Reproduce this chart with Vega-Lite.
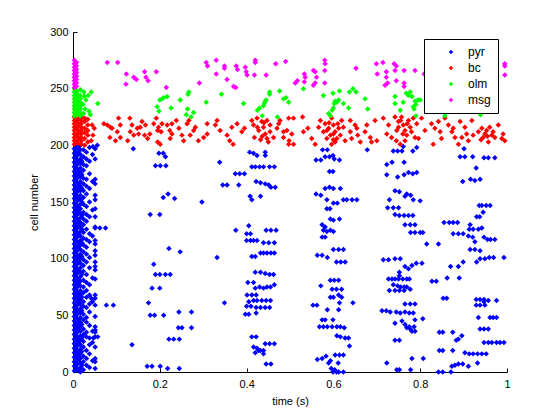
{
  "$schema": "https://vega.github.io/schema/vega-lite/v6.json",
  "autosize": {"type": "none"},
  "width": 434,
  "height": 340,
  "padding": {"left": 73, "top": 32, "right": 53, "bottom": 48},
  "background": "white",
  "config": {
    "view": {"stroke": null},
    "font": "Liberation Sans",
    "axis": {"grid": false, "domainColor": "black", "tickColor": "black", "labelColor": "black", "titleColor": "black", "labelFont": "Liberation Sans", "titleFont": "Liberation Sans", "labelFontSize": 11, "titleFontSize": 11, "titleFontWeight": "normal", "tickSize": -4, "domainWidth": 1, "tickWidth": 1},
    "legend": {"labelFont": "Liberation Sans", "labelFontSize": 12, "labelColor": "black"}
  },
  "datasets": {
    "pyr": [
      {"t":0.003,"c":1},{"t":0.003,"c":5},{"t":0.003,"c":9},{"t":0.003,"c":13},{"t":0.003,"c":17},{"t":0.003,"c":21},{"t":0.003,"c":25},{"t":0.003,"c":29},{"t":0.003,"c":33},{"t":0.003,"c":37},{"t":0.003,"c":41},{"t":0.003,"c":45},{"t":0.003,"c":49},{"t":0.003,"c":53},{"t":0.003,"c":57},{"t":0.003,"c":61},{"t":0.003,"c":65},{"t":0.003,"c":69},{"t":0.003,"c":73},{"t":0.003,"c":77},{"t":0.003,"c":81},{"t":0.003,"c":85},{"t":0.003,"c":89},{"t":0.003,"c":93},{"t":0.003,"c":97},{"t":0.003,"c":101},{"t":0.003,"c":105},{"t":0.003,"c":109},{"t":0.003,"c":113},{"t":0.003,"c":117},{"t":0.003,"c":121},{"t":0.003,"c":125},{"t":0.003,"c":129},{"t":0.003,"c":133},{"t":0.003,"c":137},{"t":0.003,"c":141},{"t":0.003,"c":145},{"t":0.003,"c":149},{"t":0.003,"c":153},{"t":0.003,"c":157},{"t":0.003,"c":161},{"t":0.003,"c":165},{"t":0.003,"c":169},{"t":0.003,"c":173},{"t":0.003,"c":177},{"t":0.003,"c":181},{"t":0.003,"c":185},{"t":0.003,"c":189},{"t":0.003,"c":193},{"t":0.003,"c":197},
      {"t":0.0065,"c":2},{"t":0.0065,"c":6},{"t":0.0065,"c":14},{"t":0.0065,"c":18},{"t":0.0065,"c":22},{"t":0.0065,"c":30},{"t":0.0065,"c":34},{"t":0.0065,"c":38},{"t":0.0065,"c":42},{"t":0.0065,"c":50},{"t":0.0065,"c":54},{"t":0.0065,"c":58},{"t":0.0065,"c":66},{"t":0.0065,"c":70},{"t":0.0065,"c":74},{"t":0.0065,"c":78},{"t":0.0065,"c":86},{"t":0.0065,"c":90},{"t":0.0065,"c":94},{"t":0.0065,"c":102},{"t":0.0065,"c":106},{"t":0.0065,"c":110},{"t":0.0065,"c":118},{"t":0.0065,"c":122},{"t":0.0065,"c":126},{"t":0.0065,"c":130},{"t":0.0065,"c":138},{"t":0.0065,"c":142},{"t":0.0065,"c":146},{"t":0.0065,"c":154},{"t":0.0065,"c":158},{"t":0.0065,"c":162},{"t":0.0065,"c":170},{"t":0.0065,"c":174},{"t":0.0065,"c":178},{"t":0.0065,"c":182},{"t":0.0065,"c":190},{"t":0.0065,"c":194},{"t":0.0065,"c":198},
      {"t":0.010,"c":3},{"t":0.010,"c":7},{"t":0.010,"c":11},{"t":0.010,"c":15},{"t":0.010,"c":19},{"t":0.010,"c":23},{"t":0.010,"c":27},{"t":0.010,"c":31},{"t":0.010,"c":35},{"t":0.010,"c":39},{"t":0.010,"c":43},{"t":0.010,"c":47},{"t":0.010,"c":51},{"t":0.010,"c":55},{"t":0.010,"c":59},{"t":0.010,"c":63},{"t":0.010,"c":67},{"t":0.010,"c":71},{"t":0.010,"c":75},{"t":0.010,"c":79},{"t":0.010,"c":83},{"t":0.010,"c":87},{"t":0.010,"c":91},{"t":0.010,"c":95},{"t":0.010,"c":99},{"t":0.010,"c":103},{"t":0.010,"c":107},{"t":0.010,"c":111},{"t":0.010,"c":115},{"t":0.010,"c":119},{"t":0.010,"c":123},{"t":0.010,"c":127},{"t":0.010,"c":131},{"t":0.010,"c":135},{"t":0.010,"c":139},{"t":0.010,"c":143},{"t":0.010,"c":147},{"t":0.010,"c":151},{"t":0.010,"c":155},{"t":0.010,"c":159},{"t":0.010,"c":163},{"t":0.010,"c":167},{"t":0.010,"c":171},{"t":0.010,"c":175},{"t":0.010,"c":179},{"t":0.010,"c":183},{"t":0.010,"c":187},{"t":0.010,"c":191},{"t":0.010,"c":195},{"t":0.010,"c":199},
      {"t":0.0135,"c":1},{"t":0.0135,"c":9},{"t":0.0135,"c":13},{"t":0.0135,"c":17},{"t":0.0135,"c":25},{"t":0.0135,"c":29},{"t":0.0135,"c":37},{"t":0.0135,"c":41},{"t":0.0135,"c":45},{"t":0.0135,"c":53},{"t":0.0135,"c":61},{"t":0.0135,"c":65},{"t":0.0135,"c":69},{"t":0.0135,"c":77},{"t":0.0135,"c":81},{"t":0.0135,"c":89},{"t":0.0135,"c":97},{"t":0.0135,"c":101},{"t":0.0135,"c":109},{"t":0.0135,"c":113},{"t":0.0135,"c":121},{"t":0.0135,"c":129},{"t":0.0135,"c":133},{"t":0.0135,"c":141},{"t":0.0135,"c":145},{"t":0.0135,"c":153},{"t":0.0135,"c":161},{"t":0.0135,"c":165},{"t":0.0135,"c":173},{"t":0.0135,"c":177},{"t":0.0135,"c":185},{"t":0.0135,"c":193},{"t":0.0135,"c":197},
      {"t":0.017,"c":0},{"t":0.017,"c":4},{"t":0.017,"c":8},{"t":0.017,"c":12},{"t":0.017,"c":16},{"t":0.017,"c":20},{"t":0.017,"c":24},{"t":0.017,"c":28},{"t":0.017,"c":32},{"t":0.017,"c":36},{"t":0.017,"c":40},{"t":0.017,"c":44},{"t":0.017,"c":48},{"t":0.017,"c":52},{"t":0.017,"c":56},{"t":0.017,"c":60},{"t":0.017,"c":64},{"t":0.017,"c":68},{"t":0.017,"c":72},{"t":0.017,"c":76},{"t":0.017,"c":80},{"t":0.017,"c":84},{"t":0.017,"c":88},{"t":0.017,"c":92},{"t":0.017,"c":96},{"t":0.017,"c":100},{"t":0.017,"c":104},{"t":0.017,"c":108},{"t":0.017,"c":112},{"t":0.017,"c":116},{"t":0.017,"c":120},{"t":0.017,"c":124},{"t":0.017,"c":128},{"t":0.017,"c":132},{"t":0.017,"c":136},{"t":0.017,"c":140},{"t":0.017,"c":144},{"t":0.017,"c":148},{"t":0.017,"c":152},{"t":0.017,"c":156},{"t":0.017,"c":160},{"t":0.017,"c":164},{"t":0.017,"c":168},{"t":0.017,"c":172},{"t":0.017,"c":176},{"t":0.017,"c":180},{"t":0.017,"c":184},{"t":0.017,"c":188},{"t":0.017,"c":192},{"t":0.017,"c":196},{"t":0.017,"c":200},
      {"t":0.0205,"c":6},{"t":0.0205,"c":18},{"t":0.0205,"c":30},{"t":0.0205,"c":42},{"t":0.0205,"c":54},{"t":0.0205,"c":66},{"t":0.0205,"c":86},{"t":0.0205,"c":102},{"t":0.0205,"c":114},{"t":0.0205,"c":126},{"t":0.0205,"c":138},{"t":0.0205,"c":150},{"t":0.0205,"c":162},{"t":0.0205,"c":174},{"t":0.0205,"c":186},
      {"t":0.024,"c":2},{"t":0.024,"c":9},{"t":0.024,"c":14},{"t":0.024,"c":22},{"t":0.024,"c":27},{"t":0.024,"c":33},{"t":0.024,"c":38},{"t":0.024,"c":46},{"t":0.024,"c":51},{"t":0.024,"c":58},{"t":0.024,"c":62},{"t":0.024,"c":70},{"t":0.024,"c":75},{"t":0.024,"c":81},{"t":0.024,"c":89},{"t":0.024,"c":94},{"t":0.024,"c":99},{"t":0.024,"c":106},{"t":0.024,"c":112},{"t":0.024,"c":118},{"t":0.024,"c":123},{"t":0.024,"c":130},{"t":0.024,"c":135},{"t":0.024,"c":141},{"t":0.024,"c":148},{"t":0.024,"c":154},{"t":0.024,"c":160},{"t":0.024,"c":166},{"t":0.024,"c":171},{"t":0.024,"c":178},{"t":0.024,"c":183},{"t":0.024,"c":190},{"t":0.024,"c":196},
      {"t":0.031,"c":6},{"t":0.031,"c":12},{"t":0.031,"c":19},{"t":0.031,"c":31},{"t":0.031,"c":35},{"t":0.031,"c":44},{"t":0.031,"c":48},{"t":0.031,"c":57},{"t":0.031,"c":66},{"t":0.031,"c":72},{"t":0.031,"c":79},{"t":0.031,"c":86},{"t":0.031,"c":97},{"t":0.031,"c":104},{"t":0.031,"c":110},{"t":0.031,"c":117},{"t":0.031,"c":126},{"t":0.031,"c":133},{"t":0.031,"c":139},{"t":0.031,"c":146},{"t":0.031,"c":157},{"t":0.031,"c":164},{"t":0.031,"c":170},{"t":0.031,"c":182},{"t":0.031,"c":188},{"t":0.031,"c":194},
      {"t":0.038,"c":4},{"t":0.038,"c":16},{"t":0.038,"c":24},{"t":0.038,"c":30},{"t":0.038,"c":41},{"t":0.038,"c":53},{"t":0.038,"c":60},{"t":0.038,"c":68},{"t":0.038,"c":77},{"t":0.038,"c":92},{"t":0.038,"c":101},{"t":0.038,"c":115},{"t":0.038,"c":122},{"t":0.038,"c":137},{"t":0.038,"c":150},{"t":0.038,"c":162},{"t":0.038,"c":175},{"t":0.038,"c":186},{"t":0.038,"c":198},
      {"t":0.045,"c":10},{"t":0.045,"c":26},{"t":0.045,"c":36},{"t":0.045,"c":62},{"t":0.045,"c":64},{"t":0.045,"c":83},{"t":0.045,"c":120},{"t":0.045,"c":143},{"t":0.045,"c":168},{"t":0.045,"c":192},
      {"t":0.051,"c":3},{"t":0.051,"c":9},{"t":0.051,"c":12},{"t":0.051,"c":22},{"t":0.051,"c":31},{"t":0.051,"c":35},{"t":0.051,"c":37},{"t":0.051,"c":40},{"t":0.051,"c":49},{"t":0.051,"c":59},{"t":0.051,"c":65},{"t":0.051,"c":68},{"t":0.051,"c":82},{"t":0.051,"c":90},{"t":0.051,"c":93},{"t":0.051,"c":97},{"t":0.051,"c":103},{"t":0.051,"c":107},{"t":0.051,"c":113},{"t":0.051,"c":116},{"t":0.051,"c":127},{"t":0.051,"c":128},{"t":0.051,"c":137},{"t":0.051,"c":144},{"t":0.051,"c":152},{"t":0.051,"c":156},{"t":0.051,"c":166},{"t":0.051,"c":170},{"t":0.051,"c":188},{"t":0.051,"c":197},
      {"t":0.062,"c":127},{"t":0.075,"c":127},{"t":0.077,"c":59},{"t":0.093,"c":59},{"t":0.046,"c":199},{"t":0.056,"c":200},{"t":0.042,"c":65},{"t":0.047,"c":30},{"t":0.057,"c":31},
      {"t":0.139,"c":197},{"t":0.198,"c":193},{"t":0.208,"c":193},{"t":0.213,"c":190},{"t":0.19,"c":182},{"t":0.201,"c":182},{"t":0.214,"c":182},{"t":0.208,"c":154},{"t":0.219,"c":157},{"t":0.234,"c":153},{"t":0.178,"c":139},{"t":0.2,"c":139},{"t":0.297,"c":150},{"t":0.338,"c":185},{"t":0.345,"c":165},{"t":0.355,"c":165},{"t":0.382,"c":165},{"t":0.374,"c":175},{"t":0.384,"c":175},{"t":0.395,"c":175},{"t":0.407,"c":194},{"t":0.416,"c":193},{"t":0.424,"c":191},{"t":0.443,"c":194},{"t":0.443,"c":191},{"t":0.412,"c":181},{"t":0.42,"c":181},{"t":0.43,"c":181},{"t":0.439,"c":181},{"t":0.453,"c":181},{"t":0.464,"c":181},{"t":0.422,"c":168},{"t":0.432,"c":167},{"t":0.443,"c":166},{"t":0.451,"c":165},{"t":0.456,"c":163},{"t":0.466,"c":163},{"t":0.408,"c":155},{"t":0.412,"c":152},{"t":0.432,"c":155},
      {"t":0.136,"c":24},{"t":0.186,"c":95},{"t":0.19,"c":86},{"t":0.2,"c":86},{"t":0.213,"c":86},{"t":0.224,"c":86},{"t":0.182,"c":74},{"t":0.2,"c":74},{"t":0.221,"c":109},{"t":0.247,"c":106},{"t":0.174,"c":61},{"t":0.178,"c":50},{"t":0.188,"c":50},{"t":0.209,"c":50},{"t":0.244,"c":53},{"t":0.273,"c":53},{"t":0.243,"c":39},{"t":0.251,"c":39},{"t":0.273,"c":39},{"t":0.221,"c":29},{"t":0.232,"c":29},{"t":0.245,"c":29},{"t":0.171,"c":5},{"t":0.182,"c":5},{"t":0.201,"c":5},{"t":0.218,"c":3},{"t":0.245,"c":3},{"t":0.332,"c":101},{"t":0.375,"c":125},{"t":0.349,"c":61},
      {"t":0.405,"c":129},{"t":0.4,"c":122},{"t":0.409,"c":122},{"t":0.4,"c":116},{"t":0.409,"c":116},{"t":0.416,"c":116},{"t":0.424,"c":116},{"t":0.412,"c":102},{"t":0.42,"c":102},{"t":0.432,"c":105},{"t":0.439,"c":105},{"t":0.447,"c":105},{"t":0.456,"c":105},{"t":0.464,"c":105},{"t":0.439,"c":114},{"t":0.451,"c":114},{"t":0.464,"c":114},{"t":0.445,"c":125},{"t":0.456,"c":125},{"t":0.468,"c":125},{"t":0.42,"c":88},{"t":0.432,"c":88},{"t":0.443,"c":87},{"t":0.453,"c":86},{"t":0.462,"c":86},{"t":0.403,"c":79},{"t":0.416,"c":79},{"t":0.42,"c":74},{"t":0.43,"c":75},{"t":0.439,"c":74},{"t":0.447,"c":75},{"t":0.455,"c":75},{"t":0.464,"c":77},{"t":0.401,"c":68},{"t":0.412,"c":68},{"t":0.422,"c":68},{"t":0.405,"c":62},{"t":0.416,"c":63},{"t":0.424,"c":63},{"t":0.435,"c":63},{"t":0.445,"c":63},{"t":0.455,"c":63},{"t":0.4,"c":58},{"t":0.41,"c":58},{"t":0.422,"c":57},{"t":0.432,"c":57},{"t":0.443,"c":57},{"t":0.453,"c":57},{"t":0.397,"c":51},{"t":0.405,"c":51},{"t":0.422,"c":52},{"t":0.412,"c":31},{"t":0.422,"c":31},{"t":0.416,"c":22},{"t":0.424,"c":21},{"t":0.428,"c":19},{"t":0.42,"c":17},{"t":0.432,"c":19},{"t":0.439,"c":19},{"t":0.443,"c":25},{"t":0.453,"c":25},{"t":0.464,"c":25},{"t":0.439,"c":16},{"t":0.445,"c":7},{"t":0.456,"c":7},
      {"t":0.678,"c":196},{"t":0.56,"c":187},{"t":0.571,"c":187},{"t":0.581,"c":190},{"t":0.591,"c":190},{"t":0.599,"c":191},{"t":0.602,"c":188},{"t":0.614,"c":187},{"t":0.575,"c":196},{"t":0.586,"c":196},{"t":0.591,"c":177},{"t":0.599,"c":177},{"t":0.56,"c":157},{"t":0.571,"c":156},{"t":0.581,"c":162},{"t":0.591,"c":163},{"t":0.6,"c":162},{"t":0.616,"c":162},{"t":0.585,"c":152},{"t":0.6,"c":149},{"t":0.609,"c":149},{"t":0.623,"c":152},{"t":0.631,"c":152},{"t":0.643,"c":152},{"t":0.654,"c":152},{"t":0.585,"c":144},{"t":0.592,"c":144},
      {"t":0.738,"c":195},{"t":0.748,"c":195},{"t":0.758,"c":195},{"t":0.761,"c":199},{"t":0.783,"c":195},{"t":0.792,"c":198},{"t":0.723,"c":183},{"t":0.735,"c":185},{"t":0.763,"c":185},{"t":0.723,"c":174},{"t":0.748,"c":172},{"t":0.763,"c":174},{"t":0.773,"c":176},{"t":0.783,"c":175},{"t":0.792,"c":176},{"t":0.742,"c":160},{"t":0.752,"c":159},{"t":0.769,"c":157},{"t":0.778,"c":156},{"t":0.765,"c":155},{"t":0.784,"c":152},{"t":0.8,"c":151},{"t":0.729,"c":152},{"t":0.738,"c":145},{"t":0.75,"c":145},{"t":0.725,"c":145},{"t":0.742,"c":139},{"t":0.752,"c":138},{"t":0.763,"c":138},{"t":0.773,"c":138},{"t":0.783,"c":138},
      {"t":0.892,"c":190},{"t":0.903,"c":190},{"t":0.921,"c":190},{"t":0.947,"c":189},{"t":0.957,"c":189},{"t":0.972,"c":189},{"t":0.901,"c":197},{"t":0.929,"c":180},{"t":0.898,"c":168},{"t":0.916,"c":170},{"t":0.926,"c":169},{"t":0.938,"c":170},{"t":0.936,"c":147},{"t":0.942,"c":147},{"t":0.952,"c":147},{"t":0.961,"c":147},{"t":0.945,"c":141},{"t":0.93,"c":137},{"t":0.937,"c":137},
      {"t":0.593,"c":135},{"t":0.6,"c":134},{"t":0.614,"c":135},{"t":0.574,"c":130},{"t":0.581,"c":128},{"t":0.593,"c":125},{"t":0.577,"c":125},{"t":0.585,"c":124},{"t":0.6,"c":124},{"t":0.574,"c":119},{"t":0.581,"c":119},{"t":0.6,"c":108},{"t":0.612,"c":108},{"t":0.623,"c":108},{"t":0.563,"c":103},{"t":0.574,"c":103},{"t":0.586,"c":101},{"t":0.607,"c":97},{"t":0.617,"c":97},{"t":0.627,"c":97},{"t":0.593,"c":81},{"t":0.602,"c":81},{"t":0.612,"c":81},{"t":0.571,"c":76},{"t":0.597,"c":73},{"t":0.607,"c":73},{"t":0.619,"c":73},{"t":0.593,"c":66},{"t":0.6,"c":66},{"t":0.612,"c":68},{"t":0.619,"c":66},{"t":0.553,"c":59},{"t":0.562,"c":59},{"t":0.614,"c":61},{"t":0.645,"c":61},{"t":0.586,"c":55},{"t":0.612,"c":55},{"t":0.574,"c":46},{"t":0.581,"c":46},{"t":0.599,"c":46},{"t":0.568,"c":40},{"t":0.577,"c":40},{"t":0.586,"c":40},{"t":0.597,"c":40},{"t":0.608,"c":40},{"t":0.616,"c":40},{"t":0.625,"c":39},{"t":0.608,"c":32},{"t":0.616,"c":31},{"t":0.627,"c":30},{"t":0.635,"c":30},{"t":0.637,"c":23},{"t":0.563,"c":11},{"t":0.574,"c":12},{"t":0.583,"c":14},{"t":0.593,"c":10},{"t":0.604,"c":15},{"t":0.614,"c":15},{"t":0.623,"c":15},{"t":0.589,"c":8},{"t":0.611,"c":8},{"t":0.595,"c":3},{"t":0.603,"c":2},{"t":0.612,"c":0},{"t":0.623,"c":0},{"t":0.599,"c":0},{"t":0.607,"c":0},
      {"t":0.765,"c":130},{"t":0.777,"c":130},{"t":0.788,"c":130},{"t":0.778,"c":123},{"t":0.788,"c":123},{"t":0.8,"c":123},{"t":0.806,"c":123},{"t":0.815,"c":113},{"t":0.842,"c":113},{"t":0.715,"c":99},{"t":0.727,"c":99},{"t":0.742,"c":100},{"t":0.754,"c":100},{"t":0.765,"c":93},{"t":0.773,"c":91},{"t":0.781,"c":94},{"t":0.791,"c":96},{"t":0.804,"c":96},{"t":0.752,"c":88},{"t":0.752,"c":85},{"t":0.727,"c":82},{"t":0.735,"c":82},{"t":0.742,"c":82},{"t":0.75,"c":82},{"t":0.76,"c":82},{"t":0.769,"c":82},{"t":0.775,"c":82},{"t":0.738,"c":77},{"t":0.748,"c":76},{"t":0.755,"c":75},{"t":0.763,"c":75},{"t":0.769,"c":75},{"t":0.777,"c":73},{"t":0.729,"c":72},{"t":0.742,"c":72},{"t":0.752,"c":72},{"t":0.763,"c":72},{"t":0.827,"c":80},{"t":0.837,"c":80},{"t":0.862,"c":83},{"t":0.89,"c":83},{"t":0.853,"c":65},{"t":0.861,"c":65},{"t":0.765,"c":60},{"t":0.777,"c":60},{"t":0.788,"c":60},{"t":0.712,"c":54},{"t":0.722,"c":54},{"t":0.731,"c":53},{"t":0.745,"c":53},{"t":0.754,"c":52},{"t":0.765,"c":53},{"t":0.775,"c":52},{"t":0.784,"c":52},{"t":0.742,"c":43},{"t":0.758,"c":45},{"t":0.765,"c":42},{"t":0.769,"c":39},{"t":0.777,"c":38},{"t":0.781,"c":36},{"t":0.788,"c":36},{"t":0.775,"c":40},{"t":0.786,"c":40},{"t":0.806,"c":47},{"t":0.788,"c":46},{"t":0.742,"c":28},{"t":0.752,"c":28},{"t":0.723,"c":8},{"t":0.746,"c":2},{"t":0.752,"c":2},{"t":0.778,"c":2},{"t":0.781,"c":12},{"t":0.807,"c":12},
      {"t":0.844,"c":35},{"t":0.852,"c":35},{"t":0.875,"c":35},{"t":0.896,"c":32},{"t":0.888,"c":29},{"t":0.883,"c":28},{"t":0.844,"c":19},{"t":0.852,"c":19},{"t":0.875,"c":19},{"t":0.903,"c":17},{"t":0.913,"c":16},{"t":0.922,"c":16},{"t":0.932,"c":16},{"t":0.942,"c":16},{"t":0.952,"c":16},{"t":0.932,"c":8},{"t":0.873,"c":5},{"t":0.88,"c":6},{"t":0.888,"c":7},{"t":0.898,"c":7},{"t":0.911,"c":5},{"t":0.842,"c":0},{"t":0.852,"c":0},{"t":0.871,"c":0},
      {"t":0.938,"c":64},{"t":0.947,"c":64},{"t":0.929,"c":64},{"t":0.957,"c":63},{"t":0.976,"c":63},{"t":0.929,"c":59},{"t":0.938,"c":59},{"t":0.949,"c":59},{"t":0.947,"c":62},{"t":0.934,"c":48},{"t":0.961,"c":48},{"t":0.968,"c":48},{"t":0.976,"c":48},{"t":0.938,"c":38},{"t":0.947,"c":38},{"t":0.957,"c":38},{"t":0.947,"c":26},{"t":0.957,"c":26},{"t":0.965,"c":26},{"t":0.976,"c":26},{"t":0.984,"c":26},{"t":0.993,"c":26},
      {"t":0.855,"c":132},{"t":0.867,"c":132},{"t":0.876,"c":132},{"t":0.886,"c":132},{"t":0.915,"c":130},{"t":0.876,"c":122},{"t":0.888,"c":122},{"t":0.899,"c":122},{"t":0.913,"c":126},{"t":0.922,"c":126},{"t":0.934,"c":126},{"t":0.942,"c":127},{"t":0.911,"c":120},{"t":0.921,"c":119},{"t":0.926,"c":115},{"t":0.947,"c":119},{"t":0.955,"c":117},{"t":0.962,"c":117},{"t":0.972,"c":117},{"t":0.915,"c":108},{"t":0.926,"c":108},{"t":0.938,"c":107},{"t":0.93,"c":97},{"t":0.938,"c":100},{"t":0.949,"c":100},{"t":0.959,"c":101},{"t":0.969,"c":101},{"t":0.993,"c":101},{"t":0.87,"c":93},{"t":0.888,"c":93},{"t":0.899,"c":97}
    ],
    "bc": [
      {"t":0.003,"c":201},{"t":0.003,"c":204},{"t":0.003,"c":207},{"t":0.003,"c":210},{"t":0.003,"c":213},{"t":0.003,"c":216},{"t":0.003,"c":219},{"t":0.003,"c":222},{"t":0.003,"c":225},
      {"t":0.007,"c":203},{"t":0.007,"c":209},{"t":0.007,"c":215},{"t":0.007,"c":221},
      {"t":0.011,"c":202},{"t":0.011,"c":205},{"t":0.011,"c":208},{"t":0.011,"c":211},{"t":0.011,"c":214},{"t":0.011,"c":217},{"t":0.011,"c":220},{"t":0.011,"c":223},
      {"t":0.015,"c":206},{"t":0.015,"c":212},{"t":0.015,"c":218},{"t":0.015,"c":224},
      {"t":0.019,"c":201},{"t":0.019,"c":204},{"t":0.019,"c":207},{"t":0.019,"c":210},{"t":0.019,"c":213},{"t":0.019,"c":216},{"t":0.019,"c":219},{"t":0.019,"c":222},{"t":0.019,"c":225},
      {"t":0.027,"c":200},{"t":0.027,"c":206},{"t":0.027,"c":211},{"t":0.027,"c":215},{"t":0.027,"c":221},{"t":0.027,"c":224},
      {"t":0.034,"c":203},{"t":0.034,"c":209},{"t":0.034,"c":213},{"t":0.034,"c":218},{"t":0.034,"c":223},
      {"t":0.044,"c":218},{"t":0.049,"c":215},{"t":0.046,"c":209},{"t":0.042,"c":204},
      {"t":0.071,"c":219},{"t":0.079,"c":218},{"t":0.086,"c":216},{"t":0.090,"c":215},{"t":0.085,"c":207},
      {"t":0.105,"c":224},{"t":0.109,"c":218},{"t":0.102,"c":212},{"t":0.109,"c":207},{"t":0.098,"c":204},
      {"t":0.131,"c":224},{"t":0.136,"c":218},{"t":0.132,"c":212},{"t":0.140,"c":209},{"t":0.126,"c":204},
      {"t":0.148,"c":215},{"t":0.151,"c":210},
      {"t":0.159,"c":221},{"t":0.155,"c":216},{"t":0.167,"c":218},{"t":0.165,"c":209},{"t":0.177,"c":210},{"t":0.172,"c":206},
      {"t":0.192,"c":224},{"t":0.186,"c":219},{"t":0.197,"c":216},{"t":0.205,"c":219},{"t":0.195,"c":213},{"t":0.203,"c":212},{"t":0.195,"c":203},{"t":0.201,"c":201},
      {"t":0.217,"c":218},{"t":0.223,"c":213},{"t":0.228,"c":210},{"t":0.224,"c":206},{"t":0.228,"c":219},{"t":0.238,"c":222},
      {"t":0.244,"c":215},{"t":0.251,"c":209},{"t":0.255,"c":204},
      {"t":0.263,"c":219},{"t":0.267,"c":222},{"t":0.270,"c":209},{"t":0.278,"c":213},{"t":0.282,"c":216},
      {"t":0.289,"c":204},{"t":0.301,"c":207},{"t":0.309,"c":210},
      {"t":0.309,"c":219},{"t":0.328,"c":218},{"t":0.332,"c":222},
      {"t":0.339,"c":213},{"t":0.355,"c":209},{"t":0.366,"c":216},{"t":0.361,"c":204},{"t":0.369,"c":201},
      {"t":0.378,"c":219},{"t":0.389,"c":212},{"t":0.395,"c":215},
      {"t":0.412,"c":222},{"t":0.416,"c":218},{"t":0.424,"c":224},{"t":0.428,"c":213},{"t":0.435,"c":221},{"t":0.439,"c":216},{"t":0.443,"c":210},{"t":0.447,"c":222},{"t":0.454,"c":218},{"t":0.454,"c":212},{"t":0.447,"c":206},{"t":0.462,"c":207},{"t":0.470,"c":215},{"t":0.474,"c":219},{"t":0.477,"c":222},{"t":0.485,"c":212},{"t":0.493,"c":213},{"t":0.485,"c":207},{"t":0.497,"c":201},
      {"t":0.418,"c":207},{"t":0.432,"c":205},{"t":0.44,"c":220},{"t":0.45,"c":203},{"t":0.425,"c":216},{"t":0.436,"c":208},
      {"t":0.497,"c":224},{"t":0.508,"c":224},{"t":0.529,"c":225},{"t":0.541,"c":215},{"t":0.504,"c":210},{"t":0.498,"c":204},{"t":0.508,"c":201},{"t":0.531,"c":212},{"t":0.550,"c":206},{"t":0.558,"c":201},{"t":0.566,"c":216},{"t":0.570,"c":222},{"t":0.577,"c":212},{"t":0.581,"c":219},{"t":0.585,"c":206},{"t":0.589,"c":215},{"t":0.593,"c":209},{"t":0.596,"c":224},{"t":0.600,"c":218},{"t":0.604,"c":212},{"t":0.608,"c":206},{"t":0.612,"c":215},{"t":0.616,"c":209},{"t":0.604,"c":203},{"t":0.596,"c":201},{"t":0.619,"c":222},{"t":0.623,"c":216},{"t":0.627,"c":204},{"t":0.639,"c":222},{"t":0.639,"c":212},{"t":0.642,"c":206},{"t":0.650,"c":218},{"t":0.654,"c":215},{"t":0.656,"c":209},{"t":0.662,"c":203},{"t":0.673,"c":212},{"t":0.677,"c":218},{"t":0.685,"c":207},{"t":0.688,"c":203},{"t":0.696,"c":222},{"t":0.700,"c":204},{"t":0.715,"c":224},{"t":0.727,"c":218},{"t":0.723,"c":210},{"t":0.734,"c":207},{"t":0.742,"c":225},{"t":0.746,"c":213},{"t":0.750,"c":221},{"t":0.754,"c":201},{"t":0.757,"c":225},{"t":0.761,"c":218},{"t":0.765,"c":213},{"t":0.769,"c":209},{"t":0.773,"c":222},{"t":0.777,"c":216},{"t":0.780,"c":212},{"t":0.784,"c":224},{"t":0.788,"c":207},{"t":0.792,"c":219},{"t":0.796,"c":206},{"t":0.803,"c":224},{"t":0.811,"c":213},{"t":0.826,"c":219},{"t":0.830,"c":201},{"t":0.834,"c":215},{"t":0.842,"c":221},{"t":0.846,"c":212},{"t":0.849,"c":206},{"t":0.857,"c":224},{"t":0.865,"c":218},{"t":0.873,"c":212},{"t":0.876,"c":215},{"t":0.880,"c":207},{"t":0.888,"c":201},{"t":0.892,"c":221},{"t":0.896,"c":207},{"t":0.903,"c":216},{"t":0.907,"c":210},{"t":0.911,"c":204},{"t":0.919,"c":222},{"t":0.922,"c":209},{"t":0.934,"c":212},{"t":0.942,"c":215},{"t":0.945,"c":207},{"t":0.949,"c":210},{"t":0.953,"c":213},{"t":0.957,"c":203},{"t":0.965,"c":209},{"t":0.968,"c":212},{"t":0.972,"c":207},{"t":0.980,"c":218},{"t":0.988,"c":206},{"t":0.991,"c":210},{"t":0.995,"c":204},
      {"t":0.59,"c":220},{"t":0.6,"c":210},{"t":0.61,"c":219},{"t":0.585,"c":213},{"t":0.6,"c":205},{"t":0.75,"c":216},{"t":0.76,"c":210},{"t":0.77,"c":219},{"t":0.745,"c":204},{"t":0.765,"c":204},{"t":0.755,"c":222},{"t":0.955,"c":208},{"t":0.96,"c":216},{"t":0.94,"c":205}
    ],
    "olm": [
      {"t":0.003,"c":226},{"t":0.003,"c":229},{"t":0.003,"c":232},{"t":0.003,"c":235},{"t":0.003,"c":238},{"t":0.003,"c":241},{"t":0.003,"c":244},{"t":0.003,"c":247},{"t":0.003,"c":250},
      {"t":0.0065,"c":228},{"t":0.0065,"c":234},{"t":0.0065,"c":240},{"t":0.0065,"c":246},
      {"t":0.010,"c":227},{"t":0.010,"c":230},{"t":0.010,"c":233},{"t":0.010,"c":236},{"t":0.010,"c":239},{"t":0.010,"c":242},{"t":0.010,"c":245},{"t":0.010,"c":248},
      {"t":0.017,"c":226},{"t":0.017,"c":229},{"t":0.017,"c":232},{"t":0.017,"c":235},{"t":0.017,"c":238},{"t":0.017,"c":241},{"t":0.017,"c":244},{"t":0.017,"c":249},
      {"t":0.024,"c":228},{"t":0.025,"c":247},{"t":0.028,"c":232},{"t":0.03,"c":240},{"t":0.035,"c":244},{"t":0.037,"c":230},{"t":0.04,"c":227},{"t":0.042,"c":247},{"t":0.057,"c":237},{"t":0.023,"c":236},{"t":0.026,"c":243},
      {"t":0.194,"c":234},{"t":0.2,"c":240},{"t":0.205,"c":241},{"t":0.209,"c":242},{"t":0.217,"c":243},{"t":0.198,"c":230},{"t":0.226,"c":233},{"t":0.247,"c":240},{"t":0.264,"c":232},{"t":0.265,"c":245},{"t":0.267,"c":247},{"t":0.261,"c":227},{"t":0.278,"c":229},{"t":0.272,"c":225},{"t":0.307,"c":238},{"t":0.342,"c":245},{"t":0.393,"c":237},{"t":0.425,"c":231},{"t":0.43,"c":233},{"t":0.439,"c":235},{"t":0.441,"c":237},{"t":0.443,"c":239},{"t":0.445,"c":240},{"t":0.453,"c":247},{"t":0.453,"c":245},{"t":0.436,"c":226},{"t":0.471,"c":225},{"t":0.476,"c":248},{"t":0.485,"c":241},{"t":0.491,"c":242},{"t":0.497,"c":238},
      {"t":0.531,"c":250},{"t":0.577,"c":244},{"t":0.589,"c":228},{"t":0.593,"c":226},{"t":0.597,"c":231},{"t":0.6,"c":233},{"t":0.602,"c":237},{"t":0.604,"c":239},{"t":0.608,"c":238},{"t":0.599,"c":246},{"t":0.614,"c":248},{"t":0.612,"c":240},{"t":0.623,"c":237},{"t":0.635,"c":233},{"t":0.637,"c":247},{"t":0.645,"c":250},{"t":0.652,"c":247},{"t":0.673,"c":241},{"t":0.679,"c":232},{"t":0.742,"c":243},{"t":0.742,"c":237},{"t":0.754,"c":231},{"t":0.761,"c":238},{"t":0.768,"c":246},{"t":0.773,"c":244},{"t":0.777,"c":247},{"t":0.781,"c":243},{"t":0.784,"c":234},{"t":0.786,"c":232},{"t":0.79,"c":236},{"t":0.788,"c":239},{"t":0.795,"c":240},{"t":0.8,"c":240},{"t":0.79,"c":226},{"t":0.815,"c":242},{"t":0.903,"c":232},{"t":0.939,"c":227},{"t":0.857,"c":226}
    ],
    "msg": [
      {"t":0.003,"c":251},{"t":0.003,"c":254},{"t":0.003,"c":257},{"t":0.003,"c":260},{"t":0.003,"c":263},{"t":0.003,"c":266},{"t":0.003,"c":269},{"t":0.003,"c":272},{"t":0.003,"c":275},
      {"t":0.008,"c":252},{"t":0.008,"c":255},{"t":0.008,"c":258},{"t":0.008,"c":261},{"t":0.008,"c":264},{"t":0.008,"c":267},{"t":0.008,"c":270},{"t":0.008,"c":273},
      {"t":0.079,"c":273},{"t":0.103,"c":273},{"t":0.123,"c":263},{"t":0.122,"c":254},{"t":0.14,"c":260},{"t":0.146,"c":258},{"t":0.165,"c":265},{"t":0.168,"c":260},{"t":0.173,"c":257},{"t":0.192,"c":265},{"t":0.215,"c":251},{"t":0.291,"c":255},{"t":0.307,"c":273},{"t":0.31,"c":270},{"t":0.33,"c":275},{"t":0.33,"c":263},{"t":0.349,"c":270},{"t":0.349,"c":268},{"t":0.355,"c":258},{"t":0.37,"c":252},{"t":0.375,"c":251},{"t":0.376,"c":270},{"t":0.379,"c":267},{"t":0.397,"c":269},{"t":0.399,"c":265},{"t":0.401,"c":262},{"t":0.42,"c":275},{"t":0.42,"c":273},{"t":0.418,"c":262},{"t":0.445,"c":262},{"t":0.467,"c":272},{"t":0.49,"c":274},{"t":0.512,"c":255},{"t":0.517,"c":257},{"t":0.533,"c":263},{"t":0.535,"c":260},{"t":0.533,"c":256},{"t":0.554,"c":266},{"t":0.558,"c":265},{"t":0.561,"c":260},{"t":0.554,"c":253},{"t":0.558,"c":255},{"t":0.58,"c":275},{"t":0.581,"c":272},{"t":0.58,"c":266},{"t":0.58,"c":255},{"t":0.652,"c":268},{"t":0.699,"c":272},{"t":0.701,"c":263},{"t":0.714,"c":273},{"t":0.722,"c":265},{"t":0.722,"c":260},{"t":0.725,"c":255},{"t":0.719,"c":253},{"t":0.74,"c":272},{"t":0.745,"c":270},{"t":0.742,"c":266},{"t":0.745,"c":257},{"t":0.763,"c":266},{"t":0.763,"c":255},{"t":0.763,"c":252},{"t":0.788,"c":266},{"t":0.809,"c":263},{"t":0.995,"c":272},{"t":0.995,"c":270},{"t":0.995,"c":262}
    ]
  },
  "encoding": {
    "x": {"field": "t", "type": "quantitative", "scale": {"domain": [0, 1], "nice": false, "zero": false}, "axis": {"values": [0, 0.2, 0.4, 0.6, 0.8, 1], "format": "~g", "title": "time (s)", "labelPadding": 10, "titlePadding": 6, "labelFlush": false}},
    "y": {"field": "c", "type": "quantitative", "scale": {"domain": [0, 300], "nice": false}, "axis": {"values": [0, 50, 100, 150, 200, 250, 300], "title": "cell number", "labelPadding": 9, "titlePadding": 10}}
  },
  "layer": [
    {"data": {"name": "pyr"}, "mark": {"type": "point", "shape": "diamond", "filled": true, "size": 30, "opacity": 1}, "encoding": {"color": {"datum": "pyr", "scale": {"domain": ["pyr", "bc", "olm", "msg"], "range": ["#0000ff", "#ff0000", "#00ff00", "#ff00ff"]}, "legend": {"title": null, "orient": "none", "legendX": 351, "legendY": 7, "strokeColor": "black", "fillColor": "white", "padding": 7, "symbolType": "diamond", "symbolSize": 20, "symbolOffset": 14, "labelOffset": 11, "rowPadding": 4, "cornerRadius": 0, "labelExpr": "datum.label + '      '"}}}},
    {"data": {"name": "bc"}, "mark": {"type": "point", "shape": "diamond", "filled": true, "size": 30, "opacity": 1}, "encoding": {"color": {"datum": "bc"}}},
    {"data": {"name": "olm"}, "mark": {"type": "point", "shape": "diamond", "filled": true, "size": 30, "opacity": 1}, "encoding": {"color": {"datum": "olm"}}},
    {"data": {"name": "msg"}, "mark": {"type": "point", "shape": "diamond", "filled": true, "size": 30, "opacity": 1}, "encoding": {"color": {"datum": "msg"}}}
  ]
}
